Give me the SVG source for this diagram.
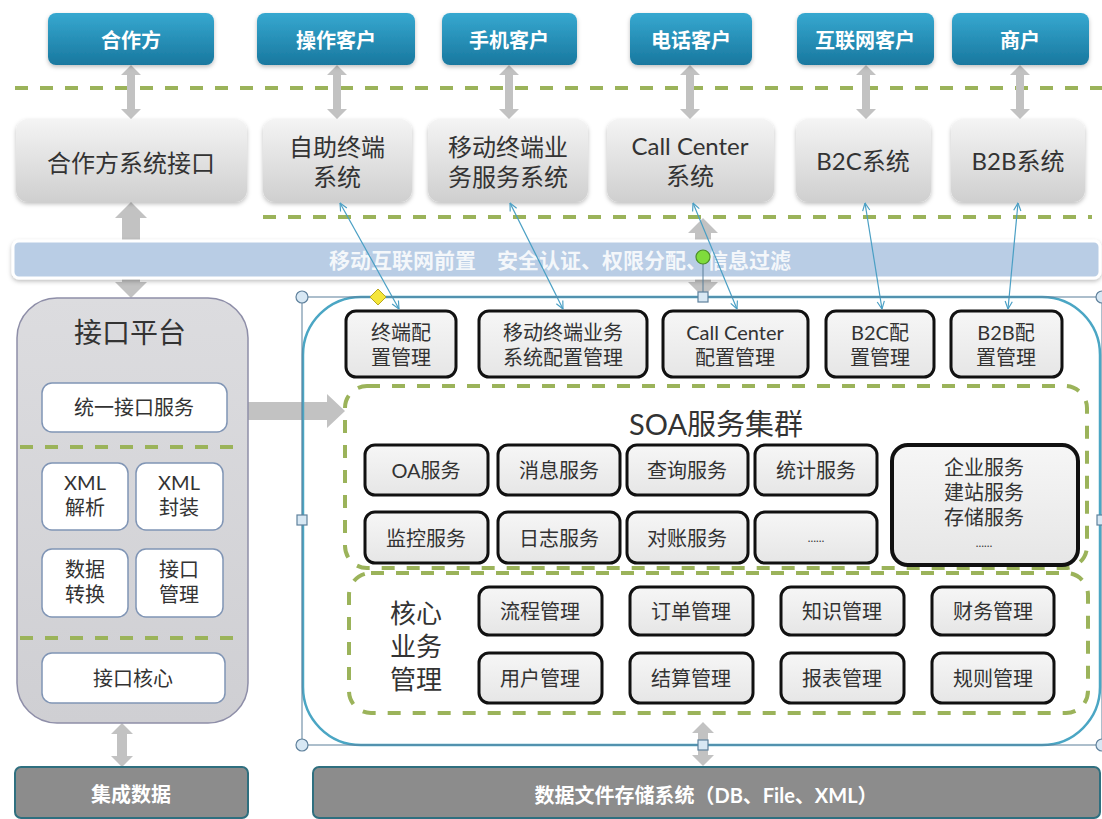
<svg xmlns="http://www.w3.org/2000/svg" xmlns:xlink="http://www.w3.org/1999/xlink" width="1102" height="819" viewBox="0 0 1102 819">
<defs>
<style>
.t{font-family:Lato,"Noto Sans CJK SC","Noto Sans",sans-serif;text-anchor:middle;dominant-baseline:central;fill:#333}
.blue{fill:url(#gBlue);filter:url(#sh)}
.btxt{fill:#fff;font-size:20px;font-weight:bold}
.gray{fill:url(#gGray);filter:url(#sh)}
.gtxt{font-size:24px}
.cfg{fill:url(#gCfg);stroke:#111;stroke-width:3}
.ctxt{font-size:20px}
.dash{stroke:#9bb35a;stroke-width:4;stroke-dasharray:13 12;fill:none}
.arr{fill:#c2c2c2}
.wbox{fill:#fff;stroke:#8095b5;stroke-width:1.5}
.conn{stroke:#4a9fc4;stroke-width:1.2;fill:none;marker-start:url(#oa);marker-end:url(#oa)}
.dark{fill:#8c8c8c;stroke:#2f6f7f;stroke-width:2}
.wtxt{fill:#fff;font-size:20px;font-weight:bold}
.hc{fill:#d8e8f4;stroke:#5f819c;stroke-width:1.2}
</style>
<linearGradient id="gBlue" x1="0" y1="0" x2="0" y2="1"><stop offset="0" stop-color="#36a8d0"/><stop offset="1" stop-color="#19789f"/></linearGradient>
<linearGradient id="gGray" x1="0" y1="0" x2="0" y2="1"><stop offset="0" stop-color="#f4f4f4"/><stop offset="1" stop-color="#cfcfcf"/></linearGradient>
<linearGradient id="gCfg" x1="0" y1="0" x2="0" y2="1"><stop offset="0" stop-color="#f6f6f6"/><stop offset="1" stop-color="#e6e6e6"/></linearGradient>
<linearGradient id="gPanel" x1="0" y1="0" x2="0" y2="1"><stop offset="0" stop-color="#dcdcdf"/><stop offset="1" stop-color="#cfcfd3"/></linearGradient>
<filter id="sh" x="-10%" y="-10%" width="120%" height="130%"><feDropShadow dx="0" dy="2" stdDeviation="2" flood-color="#000" flood-opacity="0.25"/></filter>
<marker id="oa" viewBox="0 0 10 10" refX="9.5" refY="5" markerWidth="9" markerHeight="9" markerUnits="userSpaceOnUse" orient="auto-start-reverse"><path d="M1,1 L9.5,5 L1,9" fill="none" stroke="#4a9fc4" stroke-width="1.3"/></marker>
<path id="dblS" d="M0,0 L10,10 L4,10 L4,44 L10,44 L0,54 L-10,44 L-4,44 L-4,10 L-10,10 Z"/>
<path id="dblB" d="M0,0 L11,11 L5,11 L5,33 L11,33 L0,44 L-11,33 L-5,33 L-5,11 L-11,11 Z"/>
</defs>
<rect width="1102" height="819" fill="#fff"/>

<!-- dashed separators -->
<g id="separators">
<line class="dash" x1="15" y1="88" x2="1102" y2="88"/>
<line class="dash" x1="263" y1="217" x2="1092" y2="217"/>
</g>

<!-- gray thick arrows -->
<g id="gray-arrows" class="arr">
<use href="#dblS" x="131" y="65"/>
<use href="#dblS" x="337" y="65"/>
<use href="#dblS" x="509" y="65"/>
<use href="#dblS" x="690" y="65"/>
<use href="#dblS" x="866" y="65"/>
<use href="#dblS" x="1020" y="65"/>
<polygon points="131,202 147,218 140,218 140,282 147,282 131,298 115,282 122,282 122,218 115,218"/>
<polygon points="703,218 718,233 711,233 711,282 718,282 703,297 688,282 695,282 695,233 688,233"/>
<polygon points="227,402 327,402 327,394 345,411 327,428 327,420 227,420"/>
<use href="#dblB" x="122" y="723"/>
<use href="#dblB" x="703" y="722"/>
</g>

<!-- top row: blue actors -->
<g id="n-hezuofang"><rect class="blue" x="48" y="13" width="166" height="52" rx="8"/><text class="t btxt" x="131" y="40">合作方</text></g>
<g id="n-caozuo"><rect class="blue" x="257" y="13" width="158" height="52" rx="8"/><text class="t btxt" x="336" y="40">操作客户</text></g>
<g id="n-shouji"><rect class="blue" x="442" y="13" width="135" height="52" rx="8"/><text class="t btxt" x="509" y="40">手机客户</text></g>
<g id="n-dianhua"><rect class="blue" x="630" y="13" width="122" height="52" rx="8"/><text class="t btxt" x="691" y="40">电话客户</text></g>
<g id="n-hulianwang"><rect class="blue" x="797" y="13" width="137" height="52" rx="8"/><text class="t btxt" x="865" y="40">互联网客户</text></g>
<g id="n-shanghu"><rect class="blue" x="952" y="13" width="137" height="52" rx="8"/><text class="t btxt" x="1020" y="40">商户</text></g>

<!-- second row: systems -->
<g id="n-hzjk"><rect class="gray" x="16" y="119" width="231" height="83" rx="12"/><text class="t gtxt" x="131" y="162">合作方系统接口</text></g>
<g id="n-zizhu"><rect class="gray" x="263" y="119" width="149" height="83" rx="12"/><text class="t gtxt" x="337" y="146">自助终端<tspan x="337" dy="30">系统</tspan></text></g>
<g id="n-yidong"><rect class="gray" x="428" y="119" width="160" height="83" rx="12"/><text class="t gtxt" x="508" y="146">移动终端业<tspan x="508" dy="30">务服务系统</tspan></text></g>
<g id="n-callcenter"><rect class="gray" x="607" y="119" width="167" height="83" rx="12"/><text class="t gtxt" x="690" y="145">Call Center<tspan x="690" dy="30">系统</tspan></text></g>
<g id="n-b2c"><rect class="gray" x="796" y="119" width="135" height="83" rx="12"/><text class="t gtxt" x="863" y="160">B2C系统</text></g>
<g id="n-b2b"><rect class="gray" x="951" y="119" width="134" height="83" rx="12"/><text class="t gtxt" x="1018" y="160">B2B系统</text></g>

<!-- front band -->
<g id="n-band">
<rect x="13" y="241" width="1087" height="37" rx="6" fill="#b9cde5" stroke="#fff" stroke-width="3" filter="url(#sh)"/>
<text class="t" x="560" y="259" style="font-size:21px;font-weight:bold;fill:#fff;fill-opacity:0.85">移动互联网前置　安全认证、权限分配、信息过滤</text>
</g>

<!-- interface platform -->
<g id="n-platform">
<rect x="17" y="298" width="231" height="425" rx="40" fill="url(#gPanel)" stroke="#8e8ea8" stroke-width="1.5"/>
<text class="t" x="130" y="332" style="font-size:28px">接口平台</text>
<line class="dash" x1="20" y1="447" x2="244" y2="447"/>
<line class="dash" x1="20" y1="638" x2="244" y2="638"/>
</g>
<g id="n-tyjk"><rect class="wbox" x="42" y="383" width="185" height="49" rx="10"/><text class="t ctxt" x="134" y="407">统一接口服务</text></g>
<g id="n-xmljx"><rect class="wbox" x="42" y="463" width="86" height="67" rx="10"/><text class="t ctxt" x="85" y="482">XML<tspan x="85" dy="25">解析</tspan></text></g>
<g id="n-xmlfz"><rect class="wbox" x="136" y="463" width="87" height="67" rx="10"/><text class="t ctxt" x="179" y="482">XML<tspan x="179" dy="25">封装</tspan></text></g>
<g id="n-sjzh"><rect class="wbox" x="42" y="549" width="86" height="68" rx="10"/><text class="t ctxt" x="85" y="569">数据<tspan x="85" dy="25">转换</tspan></text></g>
<g id="n-jkgl"><rect class="wbox" x="136" y="549" width="87" height="68" rx="10"/><text class="t ctxt" x="179" y="569">接口<tspan x="179" dy="25">管理</tspan></text></g>
<g id="n-jkhx"><rect class="wbox" x="42" y="653" width="183" height="50" rx="10"/><text class="t ctxt" x="133" y="678">接口核心</text></g>

<!-- main container -->
<g id="n-container">
<rect x="303" y="297" width="797" height="448" rx="58" fill="none" stroke="#4ba6c4" stroke-width="2.5"/>
</g>

<!-- config boxes -->
<g id="n-cfg-zd"><rect class="cfg" x="346" y="311" width="110" height="66" rx="10"/><text class="t ctxt" x="401" y="332">终端配<tspan x="401" dy="25">置管理</tspan></text></g>
<g id="n-cfg-yd"><rect class="cfg" x="479" y="311" width="168" height="66" rx="10"/><text class="t ctxt" x="563" y="332">移动终端业务<tspan x="563" dy="25">系统配置管理</tspan></text></g>
<g id="n-cfg-cc"><rect class="cfg" x="663" y="311" width="145" height="66" rx="10"/><text class="t ctxt" x="735" y="332">Call Center<tspan x="735" dy="25">配置管理</tspan></text></g>
<g id="n-cfg-b2c"><rect class="cfg" x="826" y="311" width="108" height="66" rx="10"/><text class="t ctxt" x="880" y="332">B2C配<tspan x="880" dy="25">置管理</tspan></text></g>
<g id="n-cfg-b2b"><rect class="cfg" x="951" y="311" width="111" height="66" rx="10"/><text class="t ctxt" x="1006" y="332">B2B配<tspan x="1006" dy="25">置管理</tspan></text></g>

<!-- SOA cluster -->
<g id="n-soa">
<rect class="dash" x="345" y="386" width="742" height="182" rx="22"/>
<text class="t" x="716" y="423" style="font-size:29px">SOA服务集群</text>
</g>
<g id="n-oa"><rect class="cfg" x="365" y="445" width="123" height="50" rx="10"/><text class="t ctxt" x="426" y="470">OA服务</text></g>
<g id="n-xx"><rect class="cfg" x="498" y="445" width="122" height="50" rx="10"/><text class="t ctxt" x="559" y="470">消息服务</text></g>
<g id="n-cx"><rect class="cfg" x="627" y="445" width="121" height="50" rx="10"/><text class="t ctxt" x="687" y="470">查询服务</text></g>
<g id="n-tj"><rect class="cfg" x="755" y="445" width="122" height="50" rx="10"/><text class="t ctxt" x="816" y="470">统计服务</text></g>
<g id="n-jk"><rect class="cfg" x="365" y="512" width="123" height="51" rx="10"/><text class="t ctxt" x="426" y="538">监控服务</text></g>
<g id="n-rz"><rect class="cfg" x="498" y="512" width="122" height="51" rx="10"/><text class="t ctxt" x="559" y="538">日志服务</text></g>
<g id="n-dz"><rect class="cfg" x="627" y="512" width="121" height="51" rx="10"/><text class="t ctxt" x="687" y="538">对账服务</text></g>
<g id="n-more"><rect class="cfg" x="755" y="512" width="122" height="51" rx="10"/><text class="t" x="816" y="537" style="font-size:11px">……</text></g>
<g id="n-qy"><rect class="cfg" x="892" y="445" width="186" height="120" rx="16" style="stroke-width:4"/>
<text class="t ctxt" x="984" y="467">企业服务<tspan x="984" dy="25">建站服务</tspan><tspan x="984" dy="25">存储服务</tspan><tspan x="984" dy="25" style="font-size:11px">……</tspan></text></g>

<!-- core business -->
<g id="n-core">
<rect class="dash" x="349" y="573" width="739" height="140" rx="22"/>
<text class="t" x="416" y="613" style="font-size:26px">核心<tspan x="416" dy="33">业务</tspan><tspan x="416" dy="33">管理</tspan></text>
</g>
<g id="n-lc"><rect class="cfg" x="479" y="587" width="123" height="48" rx="10"/><text class="t ctxt" x="540" y="611">流程管理</text></g>
<g id="n-dd"><rect class="cfg" x="630" y="587" width="123" height="48" rx="10"/><text class="t ctxt" x="691" y="611">订单管理</text></g>
<g id="n-zs"><rect class="cfg" x="781" y="587" width="123" height="48" rx="10"/><text class="t ctxt" x="842" y="611">知识管理</text></g>
<g id="n-cw"><rect class="cfg" x="932" y="587" width="122" height="48" rx="10"/><text class="t ctxt" x="993" y="611">财务管理</text></g>
<g id="n-yh"><rect class="cfg" x="479" y="653" width="123" height="50" rx="10"/><text class="t ctxt" x="540" y="678">用户管理</text></g>
<g id="n-js"><rect class="cfg" x="630" y="653" width="123" height="50" rx="10"/><text class="t ctxt" x="691" y="678">结算管理</text></g>
<g id="n-bb"><rect class="cfg" x="781" y="653" width="123" height="50" rx="10"/><text class="t ctxt" x="842" y="678">报表管理</text></g>
<g id="n-gz"><rect class="cfg" x="932" y="653" width="122" height="50" rx="10"/><text class="t ctxt" x="993" y="678">规则管理</text></g>

<!-- bottom storage -->
<g id="n-jcsj"><rect class="dark" x="15" y="767" width="233" height="51" rx="6"/><text class="t wtxt" x="131" y="794">集成数据</text></g>
<g id="n-storage"><rect class="dark" x="313" y="767" width="787" height="51" rx="6"/><text class="t wtxt" x="706" y="795">数据文件存储系统（DB、File、XML）</text></g>

<!-- blue connectors -->
<g id="connectors" class="conn">
<line x1="340" y1="203" x2="399" y2="309"/>
<line x1="510" y1="203" x2="563" y2="309"/>
<line x1="693" y1="203" x2="737" y2="309"/>
<line x1="865" y1="203" x2="882" y2="309"/>
<line x1="1018" y1="203" x2="1008" y2="309"/>
</g>

<!-- selection handles -->
<g id="selection">
<rect x="302" y="297" width="800" height="448" fill="none" stroke="#5b7f99" stroke-width="1"/>
<line x1="703" y1="264" x2="703" y2="292" stroke="#5b7f99" stroke-width="1"/>
<circle class="hc" cx="302" cy="297" r="6"/>
<circle class="hc" cx="1102" cy="297" r="6"/>
<circle class="hc" cx="302" cy="745" r="6"/>
<circle class="hc" cx="1102" cy="745" r="6"/>
<rect class="hc" x="698" y="292" width="10" height="10"/>
<rect class="hc" x="698" y="740" width="10" height="10"/>
<rect class="hc" x="297" y="515" width="10" height="10"/>
<rect class="hc" x="1097" y="515" width="10" height="10"/>
<polygon points="378,289 386,297 378,305 370,297" fill="#f5e63a" stroke="#b8a820" stroke-width="1"/>
<circle cx="703" cy="257" r="7" fill="#7fdc3c" stroke="#4c8f2a" stroke-width="1.2"/>
</g>
</svg>
